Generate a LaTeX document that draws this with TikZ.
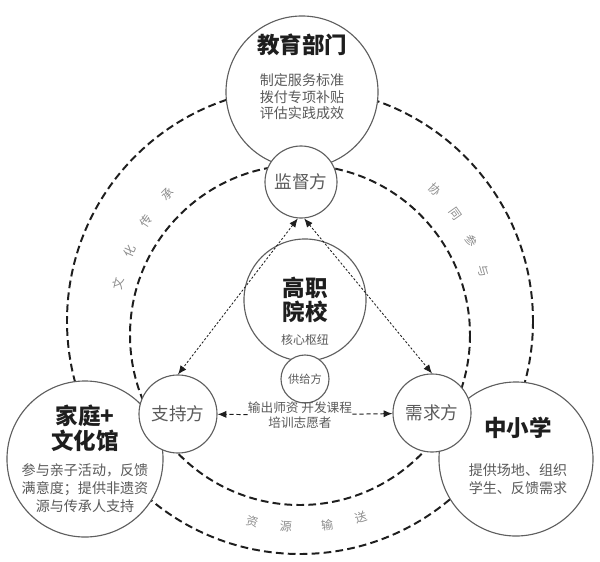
\documentclass[tikz,border=0pt]{standalone}
\usepackage{fontspec}
\setmainfont{Noto Sans CJK SC}
\usetikzlibrary{arrows.meta,positioning,calc}
\definecolor{rim}{RGB}{95,95,95}
\definecolor{inkdark}{RGB}{30,30,30}
\definecolor{inksoft}{RGB}{90,90,90}
\definecolor{arclab}{RGB}{140,140,140}

\begin{document}
\begin{tikzpicture}[x=0.025cm,y=-0.025cm,
  >={Latex[length=2.2mm,width=1.8mm]},
  big/.style={draw=rim, line width=0.8pt, circle, fill=white, inner sep=0pt},
  role/.style={draw=rim, line width=0.8pt, circle, fill=white, inner sep=0pt,
    font=\fontsize{12.5}{14}\selectfont, text=inksoft},
  ttl/.style={font=\fontsize{16}{17.5}\selectfont\bfseries, text=inkdark, align=center, inner sep=0pt},
  txt/.style={font=\fontsize{10}{12.8}\selectfont, text=inksoft, align=center, inner sep=0pt},
  ring/.style={draw=inkdark, line width=1.4pt, dash pattern=on 5.5pt off 3pt},
  link/.style={draw=inkdark, line width=0.6pt, dash pattern=on 1.6pt off 1.3pt, <->},
  feed/.style={draw=inkdark, line width=0.7pt, dash pattern=on 3pt off 2pt, ->},
  arcl/.style={font=\fontsize{8.5}{10}\selectfont, text=arclab, inner sep=0pt},
]
\useasboundingbox (0,0) rectangle (600,561);
\coordinate (outC) at (300,321);
\coordinate (inC) at (300,335);
\coordinate (labC) at (300,325);
% two dashed rings behind everything
\draw[ring] (outC) circle (233);
\draw[ring] (inC) circle (170);
% the four parties
\node[big, minimum size=3.8cm]  (edu) at (302,92) {};
\node[big, minimum size=3.9cm]  (fam) at (85,459) {};
\node[big, minimum size=3.85cm] (sch) at (516,459) {};
\node[big, minimum size=3.05cm] (voc) at (305,300) {};
\node[role, minimum size=1.8cm]  (sup) at (301,182) {监督方};
\node[role, minimum size=1.95cm] (spt) at (178,414) {支持方};
\node[role, minimum size=1.95cm] (dem) at (432,413) {需求方};
\node[role, minimum size=1.2cm, font=\fontsize{8}{9}\selectfont] (prv) at (305,379) {供给方};
% titles and duties
\node[ttl] (eduT) at (302,45) {教育部门};
\node[txt, font=\fontsize{10}{11.8}\selectfont] (eduB) at (302,97) {制定服务标准\\拨付专项补贴\\评估实践成效};
\node[ttl] (vocT) at (305,300) {高职\\院校};
\node[txt, font=\fontsize{8.5}{10}\selectfont] (vocB) at (305,340) {核心枢纽};
\node[ttl] (famT) at (85,428) {家庭+\\文化馆};
\node[txt] (famB) at (85,488) {参与亲子活动，反馈\\满意度；提供非遗资\\源与传承人支持};
\node[ttl] (schT) at (518,428) {中小学};
\node[txt] (schB) at (518,479) {提供场地、组织\\学生、反馈需求};
\node[txt, font=\fontsize{9}{10.6}\selectfont] (out) at (300,415) {输出师资 开发课程\\培训志愿者};
% flows
\draw[link] (sup.-95) -- (spt.north);
\draw[link] (sup.-85) -- (dem.north);
\draw[feed] (out) -- (spt);
\draw[feed] (out) -- (dem);
% ring labels
\foreach \t/\a [count=\i] in {文/167,化/156.5,传/146,承/135.5}
  \node[arcl, rotate=\a-90] (cul\i) at ($(labC)+({-\a}:186)$) {\t};
\foreach \t/\a [count=\i] in {协/45,同/35.5,参/26,与/16.5}
  \node[arcl, rotate=\a-90] (co\i) at ($(labC)+({-\a}:191)$) {\t};
\foreach \t/\a [count=\i] in {资/256.3,源/266,输/277.7,送/287.5}
  \node[arcl, rotate=\a+90] (res\i) at ($(labC)+({-\a}:202)$) {\t};
\end{tikzpicture}
\end{document}
